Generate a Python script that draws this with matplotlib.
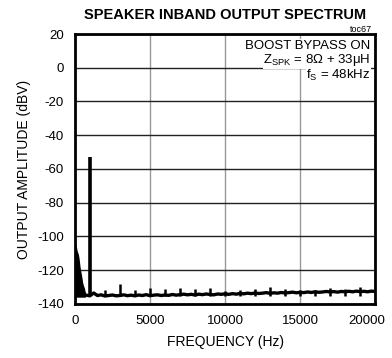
import matplotlib
matplotlib.use('Agg')
import matplotlib.pyplot as plt
import matplotlib.transforms as mtransforms
import numpy as np

plt.rcParams['font.family'] = ['Liberation Sans', 'DejaVu Sans']
plt.rcParams['mathtext.fontset'] = 'custom'
plt.rcParams['mathtext.rm'] = 'Liberation Sans'
plt.rcParams['mathtext.it'] = 'Liberation Sans'
plt.rcParams['axes.unicode_minus'] = False

# low-frequency noise hump (envelope, dBV)
low_f = [0, 40, 80, 120, 160, 200, 240, 280, 320, 360, 400, 440, 480, 520, 560, 600, 650, 700]
low_db = [-106, -105.5, -107, -109, -110, -111, -113, -116, -119, -121, -123, -125, -127.5,
          -129, -130, -131, -133, -134.5]

# noise floor, every 250 Hz from 750 Hz
floor_f = np.arange(750, 20001, 250)
floor_db = [-134.8, -135.2, -133.5, -135.0, -134.6, -135.3, -135.0, -134.7, -135.2, -135.0,
            -134.6, -135.1, -134.8, -135.2, -134.7, -135.0, -134.5, -135.1, -134.8, -134.6,
            -135.0, -134.7, -134.9, -134.4, -134.8, -134.5, -134.2, -134.6, -134.3, -134.7,
            -134.2, -134.5, -134.1, -134.4, -134.6, -134.1, -134.3, -134.0, -134.3, -133.9,
            -134.2, -133.8, -134.0, -133.6, -133.9, -133.5, -133.8, -133.6, -133.3, -133.7,
            -133.4, -133.6, -133.2, -133.5, -133.3, -133.0, -133.4, -133.1, -133.3, -132.9,
            -133.2, -132.8, -133.1, -132.9, -132.6, -132.9, -132.7, -133.0, -132.6, -132.8,
            -132.5, -132.8, -132.4, -132.7, -132.5, -132.8, -132.4, -132.6]

# fundamental and harmonics
harm_f = [1000, 2000, 3000, 4000, 5000, 6000, 7000, 8000, 9000, 10000,
          11000, 12000, 13000, 14000, 15000, 16000, 17000, 18000, 19000]
harm_db = [-53, -132.0, -128.3, -131.5, -130.7, -130.9, -130.7, -131.4, -130.5, -132.3,
           -131.6, -131.0, -129.8, -131.0, -131.5, -131.5, -130.3, -131.0, -129.7]

fig = plt.figure(figsize=(3.92, 3.58), dpi=100)
ax = fig.add_axes([0.191, 0.151, 0.766, 0.754])

ax.fill_between(low_f, -136, low_db, color='black', lw=0)
ax.plot(low_f, low_db, color='black', lw=1.5)
ax.plot(floor_f, floor_db, color='black', lw=2.4)
ax.vlines(harm_f[:1], -135, harm_db[:1], color='black', lw=2.6)
ax.vlines(harm_f[1:], -135, harm_db[1:], color='black', lw=1.8)

ax.set_xlim(0, 20000)
ax.set_ylim(-140, 20)
ax.set_xticks([0, 5000, 10000, 15000, 20000])
ax.set_yticks(range(-140, 21, 20))
ax.xaxis.grid(True, color='#999999', lw=1)
ax.yaxis.grid(True, color='#222222', lw=1)
ax.set_axisbelow(True)
ax.tick_params(length=0, labelsize=9.5, pad=8)
for s in ax.spines.values():
    s.set_linewidth(2)

# last x label sits a little left, as in the original
last = ax.get_xticklabels()[-1]
last.set_transform(last.get_transform() +
                   mtransforms.ScaledTranslation(-6 / 72, 0, fig.dpi_scale_trans))

ax.set_xlabel('FREQUENCY (Hz)', fontsize=10, labelpad=6)
ax.set_ylabel('OUTPUT AMPLITUDE (dBV)', fontsize=10, labelpad=4)

fig.text(0.574, 0.958, 'SPEAKER INBAND OUTPUT SPECTRUM', ha='center', va='center',
         fontsize=10.5, fontweight='bold', family=['Liberation Sans Narrow', 'Liberation Sans'])
fig.text(0.95, 0.918, 'toc67', ha='right', va='center', fontsize=6.5)

box = dict(facecolor='white', edgecolor='none', pad=0.5)
ax.text(0.985, 0.955, 'BOOST BYPASS ON', transform=ax.transAxes, ha='right', va='center',
        fontsize=9.5, bbox=box)
ax.text(0.985, 0.903, r'Z$_{\mathrm{SPK}}$ = 8Ω + 33μH', transform=ax.transAxes, ha='right',
        va='center', fontsize=9.5, bbox=box)
ax.text(0.985, 0.848, r'f$_{\mathrm{S}}$ = 48kHz', transform=ax.transAxes, ha='right',
        va='center', fontsize=9.5, bbox=box)

fig.savefig('out.png', dpi=100)
